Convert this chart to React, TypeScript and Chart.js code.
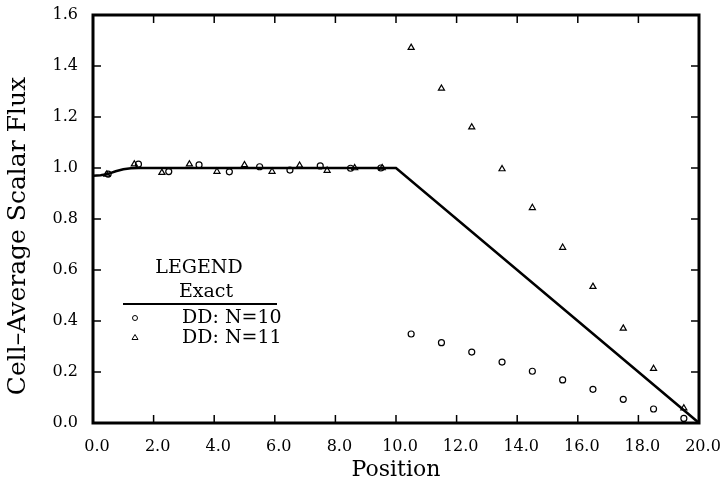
import React, { useEffect, useRef } from "react";
import { Chart, registerables } from "chart.js";
Chart.register(...registerables);

// Exact solution
const exactX = [0, 0.25, 0.5, 0.75, 1.0, 1.25, 1.5, 10, 20];
const exactY = [0.97, 0.972, 0.977, 0.987, 0.995, 0.999, 1.0, 1.0, 0.0];

// DD: N=10 (circles)
const n10X = [0.5, 1.5, 2.5, 3.5, 4.5, 5.5, 6.5, 7.5, 8.5, 9.5, 10.5, 11.5, 12.5, 13.5, 14.5, 15.5, 16.5, 17.5, 18.5, 19.5];
const n10Y = [0.976, 1.015, 0.986, 1.012, 0.985, 1.005, 0.992, 1.008, 0.999, 1.0, 0.349, 0.315, 0.278, 0.239, 0.203, 0.169, 0.132, 0.093, 0.055, 0.018];

// DD: N=11 (triangles)
const n11X = [0.455, 1.364, 2.273, 3.182, 4.091, 5.0, 5.909, 6.818, 7.727, 8.636, 9.545, 10.5, 11.5, 12.5, 13.5, 14.5, 15.5, 16.5, 17.5, 18.5, 19.5];
const n11Y = [0.975, 1.015, 0.982, 1.015, 0.986, 1.012, 0.986, 1.01, 0.99, 1.0, 1.0, 1.472, 1.312, 1.16, 0.996, 0.844, 0.688, 0.535, 0.371, 0.213, 0.058];

const legendTitle = "LEGEND";
const legendLabels = ["Exact", "DD: N=10", "DD: N=11"];
const xTitle = "Position";
const yTitle = "Cell\u2013Average Scalar Flux";

const FONT = "'DejaVu Serif', serif";

const toPts = (xs: number[], ys: number[]) => xs.map((x, i) => ({ x, y: ys[i] }));

const framePlugin = {
  id: "frame",
  afterDatasetsDraw(chart: any) {
    const { ctx, chartArea: a, scales } = chart;
    const xs = scales.x, ys = scales.y;
    ctx.save();
    ctx.strokeStyle = "#000";
    // inside ticks
    ctx.lineWidth = 1.5;
    const tl = 8;
    xs.ticks.forEach((t: any) => {
      const px = xs.getPixelForValue(t.value);
      if (px <= a.left + 1 || px >= a.right - 1) return;
      ctx.beginPath();
      ctx.moveTo(px, a.bottom); ctx.lineTo(px, a.bottom - tl);
      ctx.moveTo(px, a.top); ctx.lineTo(px, a.top + tl);
      ctx.stroke();
    });
    ys.ticks.forEach((t: any) => {
      const py = ys.getPixelForValue(t.value);
      if (py <= a.top + 1 || py >= a.bottom - 1) return;
      ctx.beginPath();
      ctx.moveTo(a.left, py); ctx.lineTo(a.left + tl, py);
      ctx.moveTo(a.right, py); ctx.lineTo(a.right - tl, py);
      ctx.stroke();
    });
    ctx.lineWidth = 3;
    ctx.strokeRect(a.left, a.top, a.right - a.left, a.bottom - a.top);

    // y title
    ctx.fillStyle = "#000";
    ctx.font = `25px ${FONT}`;
    ctx.textAlign = "center";
    ctx.textBaseline = "alphabetic";
    ctx.save();
    ctx.translate(25, 236);
    ctx.rotate(-Math.PI / 2);
    ctx.fillText(yTitle, 0, 0);
    ctx.restore();

    // legend
    ctx.font = `19px ${FONT}`;
    ctx.textBaseline = "middle";
    ctx.textAlign = "center";
    ctx.fillText(legendTitle, 199, 268);
    ctx.fillText(legendLabels[0], 206, 292);
    ctx.lineWidth = 2;
    ctx.beginPath();
    ctx.moveTo(123, 304); ctx.lineTo(277, 304);
    ctx.stroke();
    ctx.textAlign = "left";
    ctx.fillText(legendLabels[1], 182, 318);
    ctx.fillText(legendLabels[2], 182, 338);
    ctx.lineWidth = 1;
    ctx.beginPath();
    ctx.arc(135, 318, 2.5, 0, Math.PI * 2);
    ctx.stroke();
    ctx.beginPath();
    ctx.moveTo(135, 334.5); ctx.lineTo(138, 339.5); ctx.lineTo(132, 339.5); ctx.closePath();
    ctx.stroke();
    ctx.restore();
  },
};

export default function App() {
  const ref = useRef<HTMLCanvasElement>(null);
  useEffect(() => {
    if (!ref.current) return;
    const chart = new Chart(ref.current, {
      type: "scatter",
      data: {
        datasets: [
          {
            label: legendLabels[0],
            data: toPts(exactX, exactY),
            showLine: true,
            borderColor: "#000",
            borderWidth: 2.5,
            pointRadius: 0,
            tension: 0,
          },
          {
            label: legendLabels[1],
            data: toPts(n10X, n10Y),
            pointStyle: "circle",
            pointRadius: 3,
            borderColor: "#000",
            backgroundColor: "rgba(0,0,0,0)",
            borderWidth: 1.2,
          },
          {
            label: legendLabels[2],
            data: toPts(n11X, n11Y),
            pointStyle: "triangle",
            pointRadius: 3.5,
            borderColor: "#000",
            backgroundColor: "rgba(0,0,0,0)",
            borderWidth: 1.2,
          },
        ],
      },
      options: {
        animation: false,
        responsive: false,
        layout: { padding: { top: 15, right: 21, left: 0, bottom: 0 } },
        plugins: { legend: { display: false }, tooltip: { enabled: false } },
        scales: {
          x: {
            type: "linear",
            min: 0,
            max: 20,
            grid: { display: false, drawTicks: false },
            border: { display: false },
            ticks: {
              stepSize: 2,
              padding: 14,
              labelOffset: 4,
              color: "#000",
              font: { family: FONT, size: 16 },
              callback: (v: any) => Number(v).toFixed(1),
            },
            title: {
              display: true,
              text: xTitle,
              color: "#000",
              font: { family: FONT, size: 22, lineHeight: 1.2 },
              padding: { top: 0, bottom: 1 },
            },
            afterFit: (s: any) => { s.height = 61; s.paddingLeft = 0; s.paddingRight = 0; },
          },
          y: {
            type: "linear",
            min: 0,
            max: 1.6,
            grid: { display: false, drawTicks: false },
            border: { display: false },
            ticks: {
              stepSize: 0.2,
              padding: 15,
              color: "#000",
              font: { family: FONT, size: 16 },
              callback: (v: any) => Number(v).toFixed(1),
            },
            afterFit: (s: any) => { s.width = 93; s.paddingTop = 0; s.paddingBottom = 0; },
          },
        },
      },
      plugins: [framePlugin],
    });
    return () => chart.destroy();
  }, []);
  return (
    <div style={{ position: "absolute", left: 0, top: 0, width: 720, height: 484, background: "#fff" }}>
      <canvas ref={ref} width={720} height={484} style={{ display: "block" }} />
    </div>
  );
}
